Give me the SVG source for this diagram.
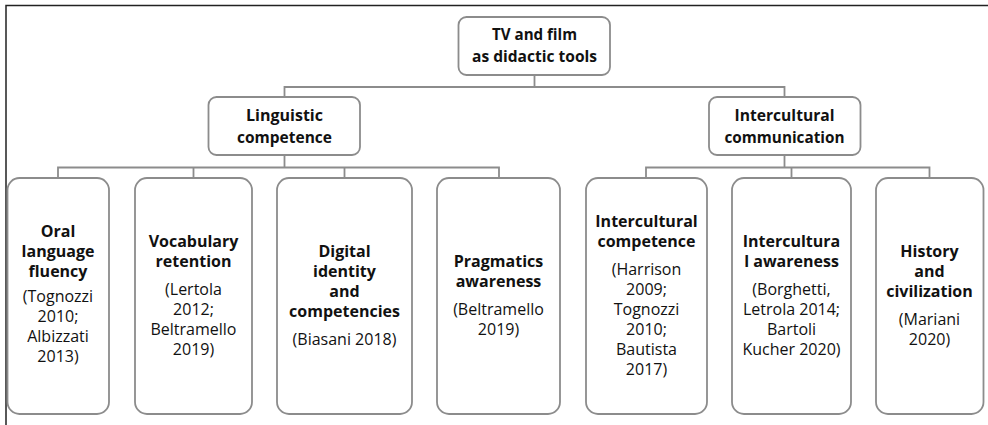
<svg xmlns="http://www.w3.org/2000/svg" width="988" height="425" viewBox="0 0 988 425">
<style>
.bx{fill:#fff;stroke:#8c8c8c;stroke-width:1.8}
.cn{fill:none;stroke:#8c8c8c;stroke-width:1.8}
.fr{fill:none;stroke:#222;stroke-width:1.5}
text{font-family:"Open Sans","DejaVu Sans",sans-serif;fill:#111;text-anchor:middle}
.h{font-weight:bold;font-size:16px}
.t{font-weight:bold;font-size:16px}
.r{font-size:16px}
</style>
<rect width="988" height="425" fill="#fff"/>
<path class="fr" d="M6 425V5.5H988"/>
<g id="connectors">
<path class="cn" d="M534.5 75V87M284.5 97V87H784.5V97"/>
<path class="cn" d="M284.5 155V167.5M58 178V167.5H499V178M193.5 167.5V178M344.5 167.5V178"/>
<path class="cn" d="M784.5 155V167.5M646 178V167.5H929.5V178M791.5 167.5V178"/>
</g>
<g id="root">
<rect class="bx" x="458.5" y="17" width="151.5" height="58" rx="8"/>
<text class="h" x="534.5" y="40" textLength="85" lengthAdjust="spacingAndGlyphs">TV and film</text>
<text class="h" x="534.5" y="62" textLength="125" lengthAdjust="spacingAndGlyphs">as didactic tools</text>
</g>
<g id="linguistic">
<rect class="bx" x="208.5" y="97" width="151.5" height="58" rx="8"/>
<text class="h" x="284.5" y="121" textLength="77" lengthAdjust="spacingAndGlyphs">Linguistic</text>
<text class="h" x="284.5" y="143" textLength="95" lengthAdjust="spacingAndGlyphs">competence</text>
</g>
<g id="intercultural">
<rect class="bx" x="709" y="97" width="151.5" height="58" rx="8"/>
<text class="h" x="784.5" y="121" textLength="100" lengthAdjust="spacingAndGlyphs">Intercultural</text>
<text class="h" x="784.5" y="143" textLength="120" lengthAdjust="spacingAndGlyphs">communication</text>
</g>
<g id="oral">
<rect class="bx" x="7.5" y="178" width="101.5" height="236" rx="12"/>
<text class="t" x="58" y="237">Oral</text>
<text class="t" x="58" y="257">language</text>
<text class="t" x="58" y="277">fluency</text>
<text class="r" x="58" y="302">(Tognozzi</text>
<text class="r" x="58" y="322">2010;</text>
<text class="r" x="58" y="342">Albizzati</text>
<text class="r" x="58" y="362">2013)</text>
</g>
<g id="vocabulary">
<rect class="bx" x="135" y="178" width="117" height="236" rx="12"/>
<text class="t" x="193.5" y="247">Vocabulary</text>
<text class="t" x="193.5" y="267">retention</text>
<text class="r" x="193.5" y="295">(Lertola</text>
<text class="r" x="193.5" y="315">2012;</text>
<text class="r" x="193.5" y="335">Beltramello</text>
<text class="r" x="193.5" y="355">2019)</text>
</g>
<g id="digital">
<rect class="bx" x="277" y="178" width="135" height="236" rx="12"/>
<text class="t" x="344.5" y="257">Digital</text>
<text class="t" x="344.5" y="277">identity</text>
<text class="t" x="344.5" y="297">and</text>
<text class="t" x="344.5" y="317">competencies</text>
<text class="r" x="344.5" y="345">(Biasani 2018)</text>
</g>
<g id="pragmatics">
<rect class="bx" x="437" y="178" width="123" height="236" rx="12"/>
<text class="t" x="498.5" y="267">Pragmatics</text>
<text class="t" x="498.5" y="287">awareness</text>
<text class="r" x="498.5" y="315">(Beltramello</text>
<text class="r" x="498.5" y="335">2019)</text>
</g>
<g id="ic-competence">
<rect class="bx" x="586" y="178" width="121" height="236" rx="12"/>
<text class="t" x="646.5" y="227">Intercultural</text>
<text class="t" x="646.5" y="247">competence</text>
<text class="r" x="646.5" y="275">(Harrison</text>
<text class="r" x="646.5" y="295">2009;</text>
<text class="r" x="646.5" y="315">Tognozzi</text>
<text class="r" x="646.5" y="335">2010;</text>
<text class="r" x="646.5" y="355">Bautista</text>
<text class="r" x="646.5" y="375">2017)</text>
</g>
<g id="ic-awareness">
<rect class="bx" x="732" y="178" width="119" height="236" rx="12"/>
<text class="t" x="791.5" y="247">Intercultura</text>
<text class="t" x="791.5" y="267">l awareness</text>
<text class="r" x="791.5" y="295">(Borghetti,</text>
<text class="r" x="791.5" y="315">Letrola 2014;</text>
<text class="r" x="791.5" y="335">Bartoli</text>
<text class="r" x="791.5" y="355">Kucher 2020)</text>
</g>
<g id="history">
<rect class="bx" x="876" y="178" width="107.5" height="236" rx="12"/>
<text class="t" x="929.5" y="257">History</text>
<text class="t" x="929.5" y="277">and</text>
<text class="t" x="929.5" y="297">civilization</text>
<text class="r" x="929.5" y="325">(Mariani</text>
<text class="r" x="929.5" y="345">2020)</text>
</g>
</svg>
